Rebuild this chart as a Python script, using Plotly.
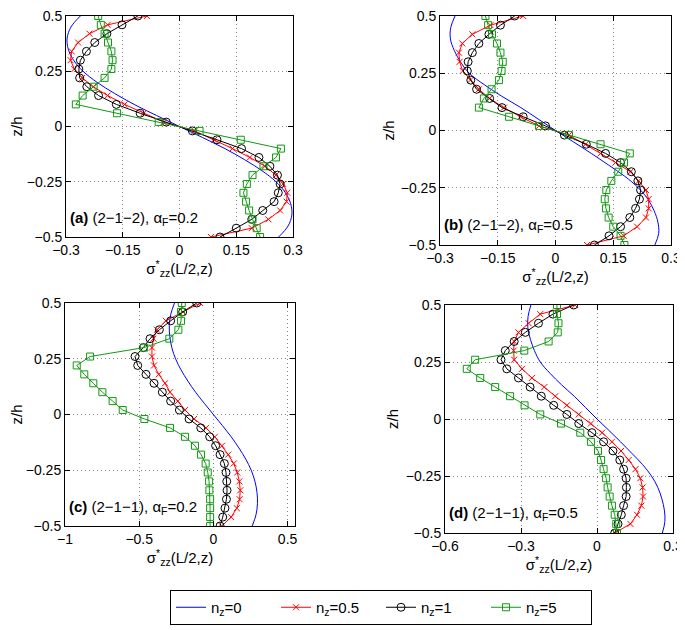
import plotly.graph_objects as go

# ---------------- data ----------------
z_markers = [0.5, 0.46, 0.42, 0.38, 0.34, 0.30, 0.26, 0.22, 0.18, 0.14, 0.10, 0.06, 0.02,
             -0.02, -0.06, -0.10, -0.14, -0.18, -0.22, -0.26, -0.30, -0.34, -0.38, -0.42, -0.46, -0.50]
z_smooth = [0.5, 0.45, 0.4, 0.35, 0.3, 0.25, 0.2, 0.15, 0.1, 0.05, 0.0,
            -0.05, -0.1, -0.15, -0.2, -0.25, -0.3, -0.35, -0.4, -0.45, -0.5]

# n_z = 0 (homogeneous), smooth curves
blue_af02 = [-0.262, -0.287, -0.297, -0.294, -0.280, -0.255, -0.218, -0.172, -0.120, -0.061, 0.0,
             0.061, 0.120, 0.172, 0.218, 0.255, 0.280, 0.294, 0.297, 0.287, 0.262]
blue_af05 = [-0.261, -0.272, -0.273, -0.263, -0.247, -0.224, -0.185, -0.140, -0.090, -0.045, 0.0,
             0.047, 0.093, 0.137, 0.180, 0.215, 0.240, 0.256, 0.266, 0.268, 0.258]

# (a) (2-1-2), alpha_F = 0.2
red_a = [-0.086, -0.190, -0.238, -0.268, -0.285, -0.288, -0.278, -0.257, -0.228, -0.190, -0.145, -0.095, -0.042,
         0.040, 0.092, 0.140, 0.186, 0.226, 0.255, 0.274, 0.285, 0.283, 0.266, 0.235, 0.191, 0.083]
black_a = [-0.110, -0.152, -0.192, -0.224, -0.246, -0.262, -0.266, -0.264, -0.245, -0.214, -0.167, -0.104, -0.035,
           0.034, 0.099, 0.164, 0.210, 0.239, 0.259, 0.266, 0.261, 0.250, 0.220, 0.191, 0.150, 0.107]
green_a = [-0.215, -0.208, -0.198, -0.189, -0.180, -0.177, -0.180, -0.198, -0.227, -0.256, -0.274, -0.165, -0.055,
           0.053, 0.162, 0.268, 0.255, 0.222, 0.193, 0.178, 0.169, 0.176, 0.184, 0.193, 0.204, 0.213]

# (b) (2-1-2), alpha_F = 0.5
red_b = [-0.084, -0.169, -0.216, -0.242, -0.251, -0.249, -0.241, -0.221, -0.199, -0.171, -0.134, -0.091, -0.043,
         0.035, 0.078, 0.117, 0.156, 0.195, 0.216, 0.235, 0.242, 0.242, 0.235, 0.212, 0.177, 0.082]
black_b = [-0.106, -0.143, -0.173, -0.199, -0.216, -0.227, -0.229, -0.220, -0.205, -0.171, -0.139, -0.084, -0.026,
           0.023, 0.080, 0.130, 0.169, 0.197, 0.214, 0.221, 0.218, 0.208, 0.193, 0.169, 0.139, 0.101]
green_b = [-0.182, -0.175, -0.165, -0.152, -0.143, -0.137, -0.140, -0.147, -0.166, -0.186, -0.199, -0.121, -0.043,
           0.035, 0.117, 0.193, 0.178, 0.163, 0.145, 0.132, 0.128, 0.131, 0.138, 0.150, 0.169, 0.179]

# (c) (2-1-1), alpha_F = 0.2
red_c = [-0.090, -0.205, -0.320, -0.380, -0.404, -0.414, -0.414, -0.400, -0.368, -0.326, -0.292, -0.240, -0.191,
         -0.130, -0.050, 0.010, 0.058, 0.100, 0.137, 0.161, 0.175, 0.181, 0.177, 0.158, 0.120, 0.056]
black_c = [-0.112, -0.207, -0.288, -0.364, -0.427, -0.472, -0.528, -0.510, -0.454, -0.400, -0.344, -0.288, -0.229,
           -0.164, -0.085, -0.025, 0.015, 0.045, 0.074, 0.085, 0.090, 0.092, 0.088, 0.078, 0.063, 0.045]
green_c = [-0.213, -0.218, -0.218, -0.236, -0.297, -0.467, -0.831, -0.921, -0.870, -0.809, -0.748, -0.679, -0.611,
           -0.465, -0.292, -0.191, -0.124, -0.083, -0.052, -0.038, -0.029, -0.027, -0.022, -0.022, -0.022, -0.022]

# (d) (2-1-1), alpha_F = 0.5
red_d = [-0.086, -0.224, -0.270, -0.310, -0.327, -0.329, -0.327, -0.296, -0.257, -0.208, -0.165, -0.119, -0.072,
         -0.024, 0.020, 0.059, 0.095, 0.125, 0.152, 0.171, 0.180, 0.182, 0.175, 0.158, 0.132, 0.070]
black_d = [-0.092, -0.174, -0.231, -0.283, -0.327, -0.362, -0.379, -0.356, -0.310, -0.264, -0.220, -0.171, -0.119,
           -0.072, -0.020, 0.026, 0.063, 0.090, 0.105, 0.115, 0.116, 0.115, 0.105, 0.096, 0.083, 0.070]
green_d = [-0.158, -0.158, -0.152, -0.155, -0.191, -0.287, -0.481, -0.514, -0.461, -0.402, -0.343, -0.286, -0.224,
           -0.142, -0.066, -0.024, 0.004, 0.016, 0.026, 0.036, 0.042, 0.050, 0.059, 0.070, 0.076, 0.079]

legend_names = ["n<sub>z</sub>=0", "n<sub>z</sub>=0.5", "n<sub>z</sub>=1", "n<sub>z</sub>=5"]
panel_labels = ["<b>(a)</b> (2−1−2), α<sub>F</sub>=0.2", "<b>(b)</b> (2−1−2), α<sub>F</sub>=0.5",
                "<b>(c)</b> (2−1−1), α<sub>F</sub>=0.2", "<b>(d)</b> (2−1−1), α<sub>F</sub>=0.5"]
x_ranges = [[-0.3, 0.3], [-0.3, 0.3], [-1, 0.55], [-0.6, 0.3]]
x_ticks = [[-0.3, -0.15, 0, 0.15, 0.3], [-0.3, -0.15, 0, 0.15, 0.3], [-1, -0.5, 0, 0.5], [-0.6, -0.3, 0, 0.3]]
z_ticks = [-0.5, -0.25, 0, 0.25, 0.5]

# ---------------- styling ----------------
OFF = 8  # page body margin offset (figure is drawn 8 px in from the page corner)
W, H = 685 - OFF, 630 - OFF
FONT = "Liberation Sans, Arial, Helvetica, sans-serif"
BLUE, RED, BLACK, GREEN = "#0000ff", "#ff0000", "#000000", "#119911"

# panel pixel boxes in the page: (left, right, top, bottom)
boxes = [(66, 293, 16, 237), (440, 671, 16, 245), (65, 295, 303, 526), (445, 673, 305, 533)]
ytitle_standoff = [14, 2, 14, 3]

panels = [
    (blue_af02, red_a, black_a, green_a),
    (blue_af05, red_b, black_b, green_b),
    (blue_af02, red_c, black_c, green_c),
    (blue_af05, red_d, black_d, green_d),
]

fig = go.Figure()
for i, (bl, rd, bk, gr) in enumerate(panels):
    xa = "x" if i == 0 else f"x{i+1}"
    ya = "y" if i == 0 else f"y{i+1}"
    show = (i == 0)
    fig.add_trace(go.Scatter(x=bl, y=z_smooth, mode="lines", line=dict(color=BLUE, width=1, shape="spline"),
                             name=legend_names[0], showlegend=show, xaxis=xa, yaxis=ya))
    fig.add_trace(go.Scatter(x=rd, y=z_markers, mode="lines+markers", line=dict(color=RED, width=1),
                             marker=dict(symbol="x-thin", size=6, line=dict(color=RED, width=1)),
                             name=legend_names[1], showlegend=show, xaxis=xa, yaxis=ya))
    fig.add_trace(go.Scatter(x=bk, y=z_markers, mode="lines+markers", line=dict(color=BLACK, width=1),
                             marker=dict(symbol="circle-open", size=8, color=BLACK, line=dict(width=1)),
                             name=legend_names[2], showlegend=show, xaxis=xa, yaxis=ya))
    fig.add_trace(go.Scatter(x=gr, y=z_markers, mode="lines+markers", line=dict(color=GREEN, width=1),
                             marker=dict(symbol="square-open", size=7, color=GREEN, line=dict(width=1)),
                             name=legend_names[3], showlegend=show, xaxis=xa, yaxis=ya))

layout = dict(
    width=W, height=H, template="none",
    margin=dict(l=0, r=0, t=0, b=0),
    paper_bgcolor="white", plot_bgcolor="white",
    font=dict(family=FONT, size=15, color="black"),
    showlegend=True,
    legend=dict(orientation="h", x=(170 - OFF) / W, y=1 - (590 - OFF) / H, xanchor="left", yanchor="top",
                bordercolor="black", borderwidth=1, bgcolor="white",
                font=dict(size=15), entrywidth=60, tracegroupgap=0),
)
annotations = []
for i, (l, r, t, b) in enumerate(boxes):
    l, r, t, b = l - OFF, r - OFF, max(t - OFF, 0), b - OFF
    sx = "" if i == 0 else str(i + 1)
    common = dict(showline=True, linecolor="black", linewidth=1, mirror="ticks",
                  ticks="inside", ticklen=5, tickcolor="black", tickwidth=1,
                  showgrid=True, gridcolor="#8a8a8a", griddash="1px,3px", gridwidth=1,
                  zeroline=False, tickfont=dict(size=14), automargin=False,
                  ticklabeloverflow="allow")
    layout["xaxis" + sx] = dict(domain=[l / W, r / W], range=x_ranges[i], tickvals=x_ticks[i],
                                anchor="y" + sx,
                                title=dict(text="σ<sup>*</sup><sub>zz</sub>(L/2,z)", standoff=4,
                                           font=dict(size=15)),
                                **common)
    layout["yaxis" + sx] = dict(domain=[1 - b / H, 1 - t / H], range=[-0.5, 0.5], tickvals=z_ticks,
                                anchor="x" + sx,
                                title=dict(text="z/h", standoff=ytitle_standoff[i], font=dict(size=15)),
                                **common)
    annotations.append(dict(text=panel_labels[i], xref="x" + sx + " domain", yref="y" + sx + " domain",
                            x=0.01, y=0.085, xanchor="left", yanchor="middle", showarrow=False,
                            font=dict(size=15)))
layout["annotations"] = annotations
fig.update_layout(**layout)

fig.write_html("out.html")
